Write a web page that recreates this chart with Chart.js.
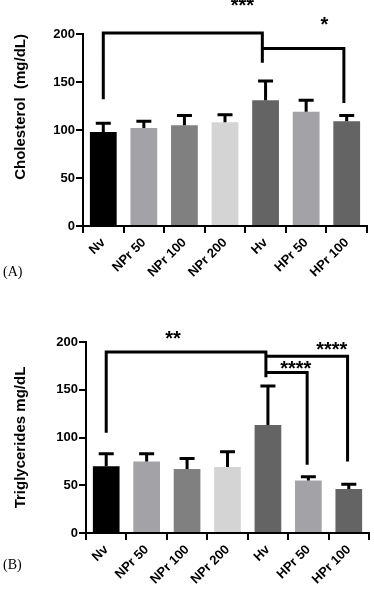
<!DOCTYPE html>
<html>
<head>
<meta charset="utf-8">
<script src="https://cdn.jsdelivr.net/npm/chart.js@4"></script>
<style>
  body { margin: 0; background: #fff; width: 374px; height: 589px; position: relative; overflow: hidden; }
  .box { position: absolute; left: 0; width: 374px; }
  #boxA { top: 0; height: 290px; }
  #boxB { top: 290px; height: 299px; }
  .tag { position: absolute; left: 3px; font: 14px "Liberation Serif", serif; color: #000; }
</style>
</head>
<body>
<div class="box" id="boxA"><canvas id="cholChart" width="374" height="290"></canvas></div>
<div class="box" id="boxB"><canvas id="trigChart" width="374" height="299"></canvas></div>
<div class="tag" style="top:264px">(A)</div>
<div class="tag" style="top:557px">(B)</div>
<script>
// groups and bar colours
const groups = ["Nv", "NPr 50", "NPr 100", "NPr 200", "Hv", "HPr 50", "HPr 100"];
const barColors = ["#000000", "#a3a3a7", "#808080", "#d4d4d4", "#646464", "#a3a3a7", "#646464"];
const yTicks = [0, 50, 100, 150, 200];

// Cholesterol (mg/dL): mean and top of error bar
const cholMean = [98, 102, 105, 108, 131, 119, 109];
const cholErr = [107, 109, 115, 116, 151, 131, 115];

// Triglycerides (mg/dL): mean and top of error bar
const trigMean = [70, 75, 67, 69, 113, 55, 46];
const trigErr = [83, 83, 78, 85, 154, 59, 51];

// significance brackets: from/to = group index, y = bar height, legs go down to fromEnd/toEnd
const cholBrackets = [
  { from: 0, to: 3.92, y: 201, fromEnd: 132, toEnd: 170 },
  { from: 3.92, to: 5.93, y: 185, fromEnd: 185, toEnd: 128 },
];
const cholStars = [
  { text: "***", x: 3.43, y: 232 },
  { text: "*", x: 5.45, y: 212 },
];
const trigBrackets = [
  { from: 0, to: 3.95, y: 189.5, fromEnd: 105, toEnd: 163 },
  { from: 3.95, to: 5.97, y: 185, fromEnd: 185, toEnd: 75 },
  { from: 3.95, to: 4.97, y: 168, fromEnd: 168, toEnd: 71.5 },
];
const trigStars = [
  { text: "**", x: 1.65, y: 206 },
  { text: "****", x: 5.58, y: 194 },
  { text: "****", x: 4.69, y: 174 },
];

// error bars + brackets + stars
const annotate = {
  id: "annotate",
  afterDatasetsDraw(chart, args, opts) {
    const ctx = chart.ctx;
    const xs = chart.scales.x, ys = chart.scales.y;
    const meta = chart.getDatasetMeta(0);
    ctx.save();
    ctx.strokeStyle = "#000";
    ctx.lineWidth = 3;
    ctx.lineJoin = "miter";
    opts.err.forEach((v, i) => {
      const bar = meta.data[i];
      const top = ys.getPixelForValue(v);
      ctx.beginPath();
      ctx.moveTo(bar.x, bar.y);
      ctx.lineTo(bar.x, top);
      ctx.moveTo(bar.x - 7.5, top);
      ctx.lineTo(bar.x + 7.5, top);
      ctx.stroke();
    });
    opts.brackets.forEach(b => {
      const x1 = xs.getPixelForValue(b.from), x2 = xs.getPixelForValue(b.to);
      ctx.beginPath();
      ctx.moveTo(x1, ys.getPixelForValue(b.fromEnd));
      ctx.lineTo(x1, ys.getPixelForValue(b.y));
      ctx.lineTo(x2, ys.getPixelForValue(b.y));
      ctx.lineTo(x2, ys.getPixelForValue(b.toEnd));
      ctx.stroke();
    });
    ctx.fillStyle = "#000";
    ctx.font = "bold 20px 'Liberation Sans', Arial, sans-serif";
    ctx.textAlign = "center";
    ctx.textBaseline = "middle";
    opts.stars.forEach(s => {
      ctx.fillText(s.text, xs.getPixelForValue(s.x), ys.getPixelForValue(s.y) + 3);
    });
    ctx.restore();
  }
};

function makeChart(id, mean, err, brackets, stars, title, titleAlign, box) {
  const ctx = document.getElementById(id).getContext("2d");
  return new Chart(ctx, {
    type: "bar",
    data: {
      labels: groups,
      datasets: [{
        data: mean,
        backgroundColor: barColors,
        borderWidth: 0,
        categoryPercentage: 1,
        barPercentage: 0.66,
      }],
    },
    options: {
      responsive: false,
      animation: false,
      layout: { padding: { top: box.top, right: box.right, left: 0, bottom: 0 } },
      plugins: {
        legend: { display: false },
        tooltip: { enabled: false },
        annotate: { err: err, brackets: brackets, stars: stars },
      },
      scales: {
        x: {
          afterFit: s => { s.height = box.xh; },
          border: { color: "#000", width: 2 },
          grid: { drawOnChartArea: false, color: "#000", lineWidth: 2, tickLength: 7 },
          ticks: {
            color: "#000",
            font: { family: "'Liberation Sans', Arial, sans-serif", size: 13, weight: "bold" },
            minRotation: 45, maxRotation: 45, autoSkip: false, padding: 2,
          },
        },
        y: {
          min: 0, max: 200,
          afterFit: s => { s.width = box.yw; },
          afterBuildTicks: s => { s.ticks = yTicks.map(v => ({ value: v })); },
          border: { color: "#000", width: 2 },
          grid: { drawOnChartArea: false, color: "#000", lineWidth: 2, tickLength: 7 },
          ticks: {
            color: "#000", padding: 1,
            font: { family: "'Liberation Sans', Arial, sans-serif", size: 13, weight: "bold" },
          },
          title: {
            display: true, text: title, color: "#000", align: titleAlign,
            padding: { top: 12, bottom: 0 },
            font: { family: "'Liberation Sans', Arial, sans-serif", size: 15, weight: "bold" },
          },
        },
      },
    },
    plugins: [annotate],
  });
}

makeChart("cholChart", cholMean, cholErr, cholBrackets, cholStars,
  "Cholesterol  (mg/dL)", "end", { top: 34, right: 7, yw: 83, xh: 64 });
makeChart("trigChart", trigMean, trigErr, trigBrackets, trigStars,
  "Triglycerides mg/dL", "center", { top: 52, right: 5, yw: 86, xh: 56 });
</script>
</body>
</html>
